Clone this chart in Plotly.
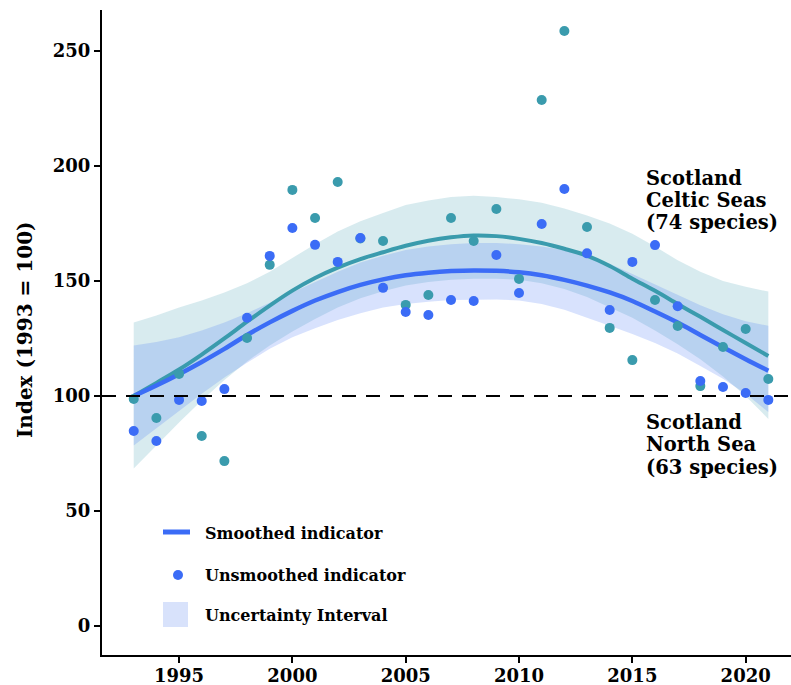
import plotly.graph_objects as go

years = list(range(1993, 2022))

celtic_points = [98.7, 90.4, 109.6, 82.6, 71.7, 125.2, 157.0, 189.6, 177.4, 193.0,
                 168.5, 167.4, 139.6, 143.9, 177.4, 167.4, 181.3, 150.9, 228.7, 258.7,
                 173.5, 129.6, 115.6, 141.7, 130.4, 104.3, 121.3, 129.1, 107.4]
north_points = [84.8, 80.4, 98.3, 97.8, 103.0, 134.0, 160.9, 173.0, 165.7, 158.3,
                168.7, 147.0, 136.5, 135.2, 141.7, 141.3, 161.3, 144.8, 174.8, 190.0,
                162.0, 137.4, 158.3, 165.6, 139.0, 106.5, 103.9, 101.3, 98.3]

celtic_smooth = [100, 105.7, 111.5, 118, 125, 132.3, 139.3, 145.8, 151.3, 155.8,
                 159.5, 162.5, 165.3, 167.5, 169, 169.8, 169.5, 168.3, 166.5, 164,
                 161, 156.5, 151, 145.7, 140, 134.4, 128.7, 123, 117.4]
north_smooth = [100, 104.6, 109.5, 114.8, 120.5, 126.5, 132, 137, 141.5, 145.2,
                148.3, 150.7, 152.5, 153.6, 154.3, 154.6, 154.4, 153.8, 152.5, 150.5,
                148, 145, 141.3, 136.7, 131.9, 126.5, 121.2, 116, 111]

celtic_upper = [132, 135, 138.5, 141.5, 145, 149, 154, 160, 166, 171.5,
                176, 179.5, 183, 185, 186.5, 187, 186.5, 185.5, 184, 181.5,
                178.5, 175, 170.5, 165, 159, 154, 150, 147.5, 145.4]
celtic_lower = [68.5, 78.5, 88.5, 98, 107, 115, 122, 128, 133.5, 138.5,
                142.5, 145.5, 148, 149.5, 150.5, 151, 151, 150.5, 149, 146.5,
                143, 138.5, 134, 128.5, 122.5, 116, 108.5, 100, 90]
north_upper = [122, 123.5, 125.5, 128.5, 132, 136, 140.5, 145, 149.5, 154,
               158, 161, 163.5, 165, 166, 166.5, 166.5, 166, 165, 163.5,
               161, 157.5, 153, 148.5, 144, 139.5, 135.5, 132.5, 130.5]
north_lower = [78.5, 86, 93.5, 101, 108, 114.5, 120.5, 125.5, 129.5, 133,
               136, 138.5, 140, 141, 141.7, 142, 142, 141.5, 140, 137.5,
               134, 130.5, 127, 123, 118.5, 113, 107.5, 101, 93]

y_ticks = [0, 50, 100, 150, 200, 250]
x_ticks = [1995, 2000, 2005, 2010, 2015, 2020]

celtic_label = ["Scotland", "Celtic Seas", "(74 species)"]
north_label = ["Scotland", "North Sea", "(63 species)"]
legend_labels = ["Smoothed indicator", "Unsmoothed indicator", "Uncertainty Interval"]

TEAL = "#3A9BAD"
BLUE = "#3B6CF6"
FONT = "DejaVu Serif"

W, H = 791, 685
L, T, B, R = 102, 10, 30, 0
PW, PH = W - L - R, H - T - B


def px(x):
    return (x - L) / PW


def py(y):
    return (H - B - y) / PH


fig = go.Figure()

fig.add_trace(go.Scatter(
    x=years + years[::-1], y=celtic_upper + celtic_lower[::-1],
    fill="toself", fillcolor="rgba(58,155,173,0.2)", line=dict(width=0),
    hoverinfo="skip", showlegend=False))
fig.add_trace(go.Scatter(
    x=years + years[::-1], y=north_upper + north_lower[::-1],
    fill="toself", fillcolor="rgba(61,110,245,0.2)", line=dict(width=0),
    hoverinfo="skip", showlegend=False))

fig.add_trace(go.Scatter(x=years, y=celtic_smooth, mode="lines",
                         line=dict(color=TEAL, width=4, shape="spline"), showlegend=False))
fig.add_trace(go.Scatter(x=years, y=north_smooth, mode="lines",
                         line=dict(color=BLUE, width=4.5, shape="spline"), showlegend=False))

fig.add_trace(go.Scatter(x=years, y=celtic_points, mode="markers",
                         marker=dict(color=TEAL, size=10), showlegend=False))
fig.add_trace(go.Scatter(x=years, y=north_points, mode="markers",
                         marker=dict(color=BLUE, size=10), showlegend=False))

# baseline
fig.add_hline(y=100, line=dict(color="black", width=2, dash="14px,10px"))

shapes = [
    dict(type="line", xref="paper", yref="paper", x0=px(163), x1=px(190),
         y0=py(532), y1=py(532), line=dict(color=BLUE, width=5)),
    dict(type="circle", xref="paper", yref="paper", x0=px(173), x1=px(183),
         y0=py(580), y1=py(570), fillcolor=BLUE, line=dict(width=0)),
    dict(type="rect", xref="paper", yref="paper", x0=px(163), x1=px(188),
         y0=py(627), y1=py(602), fillcolor="#d8e2fb", line=dict(width=0)),
]
for s in shapes:
    fig.add_shape(**s)

legend_font = dict(family=FONT, size=16, color="black", weight="bold")
for txt, yy in zip(legend_labels, [533, 575, 615]):
    fig.add_annotation(text=txt, xref="paper", yref="paper", x=px(203), y=py(yy),
                       xanchor="left", yanchor="middle", showarrow=False, font=legend_font)

label_font = dict(family=FONT, size=19.5, color="black", weight="bold")
for lines, centers in [(celtic_label, [178, 200.3, 222.6]), (north_label, [422.5, 444.8, 467])]:
    for txt, yy in zip(lines, centers):
        fig.add_annotation(text=txt, xref="paper", yref="paper", x=px(644), y=py(yy),
                           xanchor="left", yanchor="middle", showarrow=False, font=label_font)

fig.add_annotation(text="Index (1993 = 100)", xref="paper", yref="paper",
                   x=px(25), y=py(330), textangle=-90, xanchor="center", yanchor="middle",
                   showarrow=False, font=dict(family=FONT, size=20, color="black", weight="bold"))

axis_common = dict(showline=True, linecolor="black", linewidth=2, ticks="outside",
                   ticklen=6, tickwidth=2, tickcolor="black", showgrid=False, zeroline=False,
                   automargin=False,
                   tickfont=dict(family=FONT, size=18, color="black", weight="bold"))

fig.update_xaxes(range=[1991.6, 2022.0], tickvals=x_ticks, ticklabelstandoff=-3, **axis_common)
fig.update_yaxes(range=[-12.6, 267.8], tickvals=y_ticks, **axis_common)

fig.update_layout(width=W, height=H, margin=dict(l=L, r=R, t=T, b=B, pad=0),
                  plot_bgcolor="white", paper_bgcolor="white",
                  font=dict(family=FONT, color="black"), showlegend=False)

fig.write_html("out.html", config={"displayModeBar": False},
               post_script="document.body.style.margin='0px';document.body.style.overflow='hidden';")
